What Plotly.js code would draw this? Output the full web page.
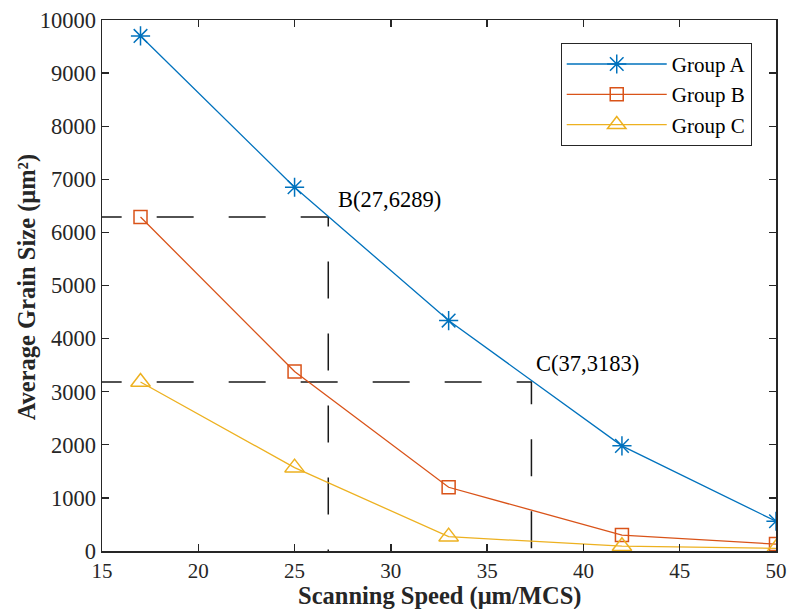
<!DOCTYPE html>
<html>
<head>
<meta charset="utf-8">
<script src="https://cdn.plot.ly/plotly-3.0.1.min.js"></script>
<style>html,body{margin:0;padding:0;background:#fff;}#chart{width:794px;height:609px;}</style>
</head>
<body>
<div id="chart"></div>
<script>
const speeds = [17, 25, 33, 42, 50];
const groupA = [9700, 6850, 4340, 1980, 560];
const groupB = [6289, 3380, 1200, 300, 130];
const groupC = [3183, 1570, 270, 90, 50];
const seriesNames = ['Group A', 'Group B', 'Group C'];
const pointB = {label: 'B(27,6289)', x: 26.75, y: 6289};
const pointC = {label: 'C(37,3183)', x: 37.3, y: 3183};
const xTicks = [15, 20, 25, 30, 35, 40, 45, 50];
const yTicks = [0, 1000, 2000, 3000, 4000, 5000, 6000, 7000, 8000, 9000, 10000];
const xTitle = 'Scanning Speed (μm/MCS)';
const yTitle = 'Average Grain Size (μm²)';

const font = '"Liberation Serif", "Times New Roman", serif';
const axisCol = '#262626';

function guide(p) {
  return {
    x: [14.1, p.x, p.x], y: [p.y, p.y, 0],
    mode: 'lines', showlegend: false, hoverinfo: 'skip',
    line: {color: '#1a1a1a', width: 1.5, dash: '37px,35px'}
  };
}
function series(name, ys, color, symbol, size) {
  return {
    x: speeds, y: ys, name: name, mode: 'lines+markers',
    line: {color: color, width: 1.3},
    marker: {symbol: symbol, size: size, color: color, line: {color: color, width: 1.5}}
  };
}
const traces = [
  guide(pointB), guide(pointC),
  series(seriesNames[0], groupA, '#0072BD', 'asterisk-open', 16),
  series(seriesNames[1], groupB, '#D95319', 'square-open', 13),
  series(seriesNames[2], groupC, '#EDB120', 'triangle-up-open', 17)
];

const titleFont = {family: font, size: 24.5, color: '#262626'};
const layout = {
  width: 794, height: 609,
  margin: {l: 102, r: 18, t: 20, b: 58},
  paper_bgcolor: '#fff', plot_bgcolor: '#fff',
  font: {family: font, size: 22, color: '#000'},
  showlegend: true,
  legend: {
    x: 0.964, y: 0.957, xanchor: 'right', yanchor: 'top',
    bgcolor: '#fff', bordercolor: '#262626', borderwidth: 1,
    font: {family: font, size: 21, color: '#000'},
    itemwidth: 100, tracegroupgap: 0
  },
  xaxis: {
    range: [15, 50], autorange: false, tickvals: xTicks, ticktext: xTicks.map(String),
    ticks: 'inside', ticklen: 7, tickwidth: 1.3, tickcolor: axisCol,
    showline: true, linecolor: axisCol, linewidth: 1.5, mirror: 'ticks',
    showgrid: false, zeroline: false, automargin: false,
    tickfont: {family: font, size: 21, color: '#262626'}
  },
  yaxis: {
    range: [0, 10000], autorange: false, tickvals: yTicks, ticktext: yTicks.map(String),
    ticks: 'inside', ticklen: 7, tickwidth: 1.3, tickcolor: axisCol,
    showline: true, linecolor: axisCol, linewidth: 1.5, mirror: 'ticks',
    showgrid: false, zeroline: false, automargin: false,
    tickfont: {family: font, size: 22.5, color: '#262626'}
  },
  annotations: [
    {p: pointB, dx: 8}, {p: pointC, dx: 3}
  ].map(o => ({
    x: o.p.x, y: o.p.y, xref: 'x', yref: 'y', text: o.p.label, showarrow: false,
    xanchor: 'left', yanchor: 'middle', xshift: o.dx, yshift: 18,
    font: {family: font, size: 22.5, color: '#000'}
  })).concat([
    {x: 0.501, y: -0.0855, xref: 'paper', yref: 'paper', text: '<b>' + xTitle + '</b>',
     showarrow: false, xanchor: 'center', yanchor: 'middle', font: titleFont},
    {x: -0.111, y: 0.497, xref: 'paper', yref: 'paper', text: '<b>' + yTitle + '</b>',
     showarrow: false, xanchor: 'center', yanchor: 'middle', textangle: -90, font: titleFont}
  ])
};

Plotly.newPlot('chart', traces, layout, {staticPlot: true, displayModeBar: false});
</script>
</body>
</html>
